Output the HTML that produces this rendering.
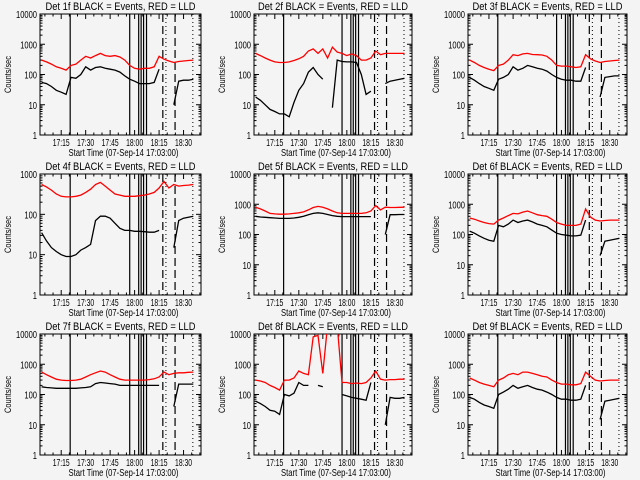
<!DOCTYPE html>
<html><head><meta charset="utf-8"><style>
html,body{margin:0;padding:0;background:#f4f4f4;}
svg{display:block;font-family:"Liberation Sans",sans-serif;}
</style></head><body>
<svg id="c" width="640" height="480" viewBox="0 0 640 480"></svg>
<script>
const times=[3,6,9,12,15,18,21,24,27,30,33,36,39,42,45,48,51,54,57,60,63,66,69,72,75,78,81,84,87,90,93,96];
const tickLabels=["17:15","17:30","17:45","18:00","18:15","18:30"];
const tickMinutes=[15,30,45,60,75,90];
const solidLines=[20.5,57,62.5,64,65.5,67.3];
const dashedLines=[77.3,84.8];
const dottedLines=[79.2,95.7];
const detNames=["1f","2f","3f","4f","5f","6f","7f","8f","9f"];
const yMaxDecades=[4,4,4,3,4,4,4,4,4];
const red1=[300,260,220,180,160,140,200,220,300,400,350,420,500,420,400,420,380,300,200,160,150,160,160,180,400,320,280,250,270,280,290,300];
const black1=[55,50,40,30,26,22,80,75,100,180,140,170,180,160,150,140,120,90,70,60,50,50,50,55,150,null,null,10,60,65,65,70];
const red2=[500,420,350,300,260,250,250,260,290,330,400,600,700,500,700,350,800,550,500,420,480,420,300,300,350,600,450,500,500,500,500,500];
const black2=[18,14,10,7,6,5,5,4,12,30,50,120,170,100,70,null,8,300,270,260,260,250,100,22,28,null,null,50,60,65,70,75];
const red3=[300,250,200,170,150,135,200,220,300,450,420,480,500,460,450,440,400,300,200,190,190,180,170,180,450,330,280,250,270,280,290,300];
const black3=[80,65,50,40,35,30,70,80,100,180,140,160,200,180,160,150,130,100,80,70,65,65,60,60,170,null,null,18,80,85,90,90];
const red4=[550,480,400,320,280,270,270,280,300,350,420,550,620,500,400,320,300,280,280,280,290,300,320,350,450,650,450,550,500,520,530,550];
const black4=[35,22,15,12,10,9,9,10,13,15,18,70,90,90,80,60,45,40,40,38,38,37,36,36,40,null,null,15,70,80,85,90];
const red5=[800,700,600,500,480,470,470,480,500,520,560,650,780,850,800,700,600,520,500,500,500,500,500,520,600,900,650,800,780,780,790,800];
const black5=[400,380,370,360,350,340,340,340,350,370,400,450,500,520,500,460,420,400,390,390,390,390,390,390,390,null,null,100,450,450,460,460];
const red6=[350,320,280,250,230,220,300,350,420,500,480,550,600,520,450,420,400,320,250,220,200,200,200,220,700,380,300,280,290,300,300,300];
const black6=[130,110,90,75,65,60,200,180,220,300,250,280,300,260,220,200,180,140,110,100,95,90,90,95,300,null,null,20,60,65,70,75];
const red7=[550,450,380,320,300,290,290,300,320,380,450,520,600,550,450,380,320,300,300,300,300,300,310,330,380,550,450,500,520,520,540,550];
const black7=[180,170,165,160,160,160,160,160,165,170,180,230,250,240,230,220,200,200,200,200,200,200,200,200,200,null,null,40,220,220,220,220];
const red8=[300,280,250,200,170,140,300,300,350,600,500,450,8000,9000,500,20000,20000,20000,250,250,230,240,230,250,350,600,320,300,310,310,320,320];
const black8=[60,50,40,30,28,22,100,90,110,250,200,200,null,200,180,null,null,null,100,90,80,75,70,65,250,null,null,10,80,75,75,80];
const red9=[350,300,250,220,200,180,300,350,450,500,450,550,550,500,450,400,380,300,250,220,220,210,210,230,550,400,300,280,290,300,300,300];
const black9=[80,70,55,45,40,35,100,120,150,200,160,180,200,170,150,140,120,100,80,70,70,65,65,70,200,null,null,15,60,65,70,75];
const reds=[red1,red2,red3,red4,red5,red6,red7,red8,red9];
const blacks=[black1,black2,black3,black4,black5,black6,black7,black8,black9];

const NS="http://www.w3.org/2000/svg";
const svg=document.getElementById('c');
function mk(tag,attrs,parent){const e=document.createElementNS(NS,tag);for(const k in attrs)e.setAttribute(k,attrs[k]);(parent||svg).appendChild(e);return e;}
const colL=[40,254,468],colR=[201,412,627];
const T0=2,T1=100.7;
const defs=mk('defs',{});
for(let p=0;p<9;p++){
  const col=p%3,row=Math.floor(p/3);
  const L=colL[col],R=colR[col],Tp=14+row*160,B=135+row*160;
  const nd=yMaxDecades[p];
  const g=mk('g',{});
  
  
  const xs=t=>L+(t-T0)/(T1-T0)*(R-L);
  const ys=v=>B-Math.log10(v)/nd*(B-Tp);
  const cp=mk('clipPath',{id:'cp'+p},defs);
  mk('rect',{x:L,y:Tp,width:R-L,height:B-Tp},cp);
  const ti=mk('text',{x:(L+R)/2,y:Tp-4,'text-anchor':'middle','font-size':'11',textLength:150,lengthAdjust:'spacingAndGlyphs'},g);
  ti.textContent='Det '+detNames[p]+' BLACK = Events, RED = LLD';
  
  
  const fr=mk('rect',{x:L,y:Tp,width:R-L,height:B-Tp,fill:'none',stroke:'#000','stroke-width':1},g);
  
  
  for(let d=0;d<=nd;d++){
    const y=ys(Math.pow(10,d));
    mk('line',{x1:L,x2:L+5,y1:y,y2:y,stroke:'#000'},g);
    mk('line',{x1:R,x2:R-5,y1:y,y2:y,stroke:'#000'},g);
    const s=String(Math.pow(10,d));
    const tl=mk('text',{x:L-3,y:y+4,'text-anchor':'end','font-size':'10',textLength:(s.length*4.2),lengthAdjust:'spacingAndGlyphs'},g);
    tl.textContent=s;
    
    
    if(d<nd){for(let m=2;m<10;m++){const ym=ys(m*Math.pow(10,d));
      mk('line',{x1:L,x2:L+2.5,y1:ym,y2:ym,stroke:'#000'},g);
      mk('line',{x1:R,x2:R-2.5,y1:ym,y2:ym,stroke:'#000'},g);}}
  }
  for(let m=5;m<T1;m+=5){const x=xs(m);const len=(m%15===0)?5:2.5;
    mk('line',{x1:x,x2:x,y1:B,y2:B-len,stroke:'#000'},g);
    mk('line',{x1:x,x2:x,y1:Tp,y2:Tp+len,stroke:'#000'},g);}
  tickMinutes.forEach((m,i)=>{const tl=mk('text',{x:xs(m),y:B+11,'text-anchor':'middle','font-size':'10',textLength:17,lengthAdjust:'spacingAndGlyphs'},g);
    tl.textContent=tickLabels[i];
    
    });
  const xl=mk('text',{x:(L+R)/2+3,y:B+21,'text-anchor':'middle','font-size':'10.5',textLength:110,lengthAdjust:'spacingAndGlyphs'},g);
  xl.textContent='Start Time (07-Sep-14 17:03:00)';
  
  
  const yl=mk('text',{transform:'translate('+(L-29)+','+((Tp+B)/2)+') rotate(-90)','text-anchor':'middle','font-size':'9',textLength:37,lengthAdjust:'spacingAndGlyphs'},g);
  yl.textContent='Counts/sec';
  
  
  const vg=mk('g',{'clip-path':'url(#cp'+p+')'},g);
  solidLines.forEach(t=>{const l=mk('line',{x1:xs(t),x2:xs(t),y1:Tp,y2:B,stroke:'#000','stroke-width':1.2},vg);
    });
  dashedLines.forEach(t=>{const l=mk('line',{x1:xs(t),x2:xs(t),y1:Tp,y2:B,stroke:'#000','stroke-width':1.2,'stroke-dasharray':'8,4'},vg);
    });
  dottedLines.forEach(t=>{const l=mk('line',{x1:xs(t),x2:xs(t),y1:Tp,y2:B,stroke:'#000','stroke-width':1,'stroke-dasharray':'1,3'},vg);
    });
  function series(arr,color,name){
    let d='',pen=false;
    arr.forEach((v,i)=>{if(v==null){pen=false;return;}
      d+=(pen?'L':'M')+xs(times[i]).toFixed(1)+','+ys(v).toFixed(1);pen=true;});
    const pth=mk('path',{d:d,fill:'none',stroke:color,'stroke-width':1.3,'clip-path':'url(#cp'+p+')'},g);
    
    
  }
  series(reds[p],'#ff0000','lld-red-series');
  series(blacks[p],'#000000','events-black-series');
}
</script>
</body></html>
